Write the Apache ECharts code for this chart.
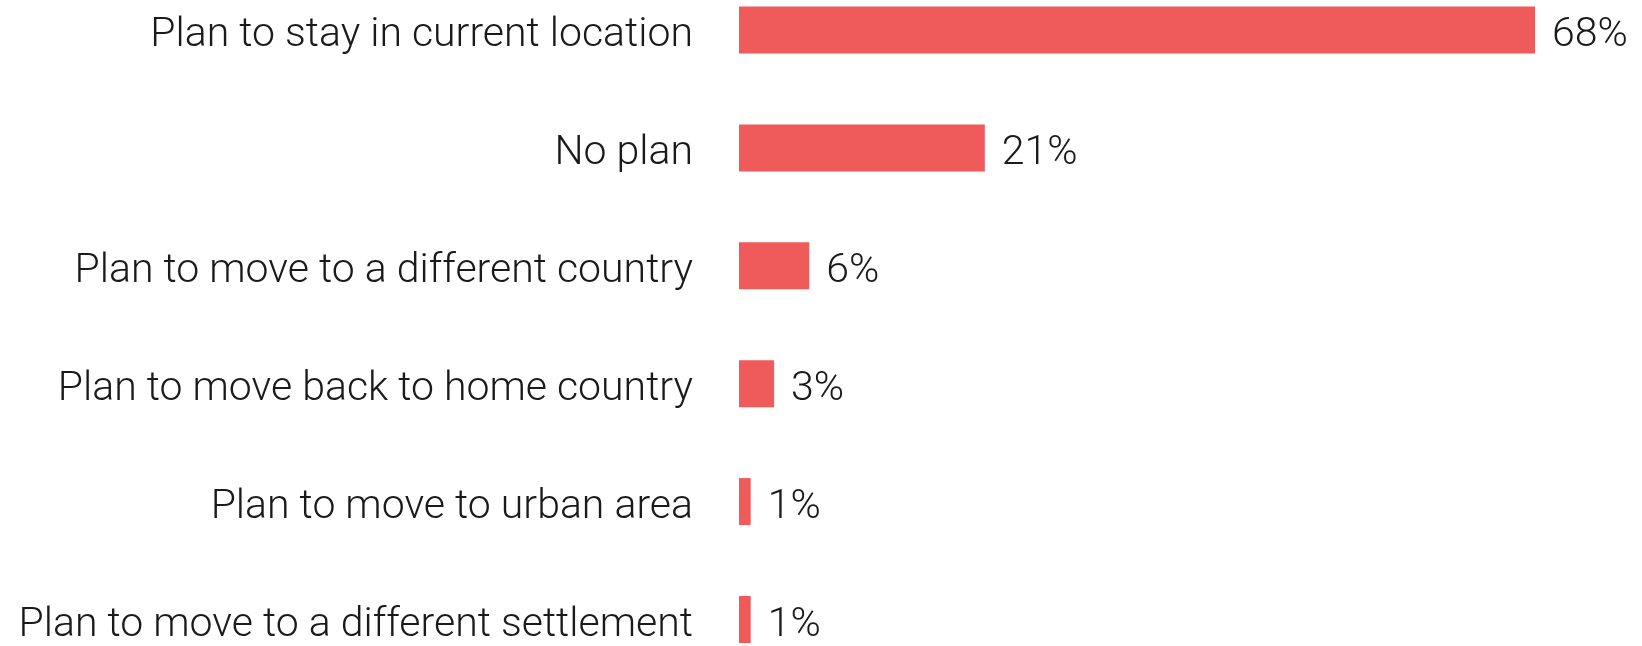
<!DOCTYPE html>
<html>
<head>
<meta charset="utf-8">
<script src="https://cdn.jsdelivr.net/npm/echarts@6/dist/echarts.min.js"></script>
<style>
html,body{margin:0;padding:0;background:#fff;}
#chart{width:1642px;height:646px;}
</style>
</head>
<body>
<div id="chart"></div>
<script>
const categories = [
  "Plan to stay in current location",
  "No plan",
  "Plan to move to a different country",
  "Plan to move back to home country",
  "Plan to move to urban area",
  "Plan to move to a different settlement"
];
const values = [68, 21, 6, 3, 1, 1];

const chart = echarts.init(document.getElementById('chart'));
const FONT = 'Roboto, "Noto Sans", sans-serif';
chart.setOption({
  animation: false,
  backgroundColor: '#ffffff',
  grid: { left: 739, top: 30, width: 796, height: 597, containLabel: false },
  xAxis: {
    type: 'value', min: 0, max: 68,
    show: false
  },
  yAxis: {
    type: 'category',
    data: categories,
    inverse: true,
    boundaryGap: false,
    axisLine: { show: false },
    axisTick: { show: false },
    splitLine: { show: false },
    axisLabel: {
      margin: 46,
      formatter: function (v) { return '{a|' + v + '}'; },
      rich: {
        a: {
          fontFamily: FONT,
          fontWeight: 300,
          fontSize: 41,
          padding: [12, 0, 0, 0],
          color: '#1a1a1a'
        }
      }
    }
  },
  series: [{
    type: 'bar',
    data: values,
    barWidth: 47,
    itemStyle: { color: '#EF5A5B' },
    label: {
      show: true,
      position: 'right',
      distance: 17,
      offset: [0, 6],
      formatter: '{c}%',
      fontFamily: FONT,
      fontWeight: 300,
      fontSize: 41,
      color: '#1a1a1a'
    }
  }]
});
</script>
</body>
</html>
